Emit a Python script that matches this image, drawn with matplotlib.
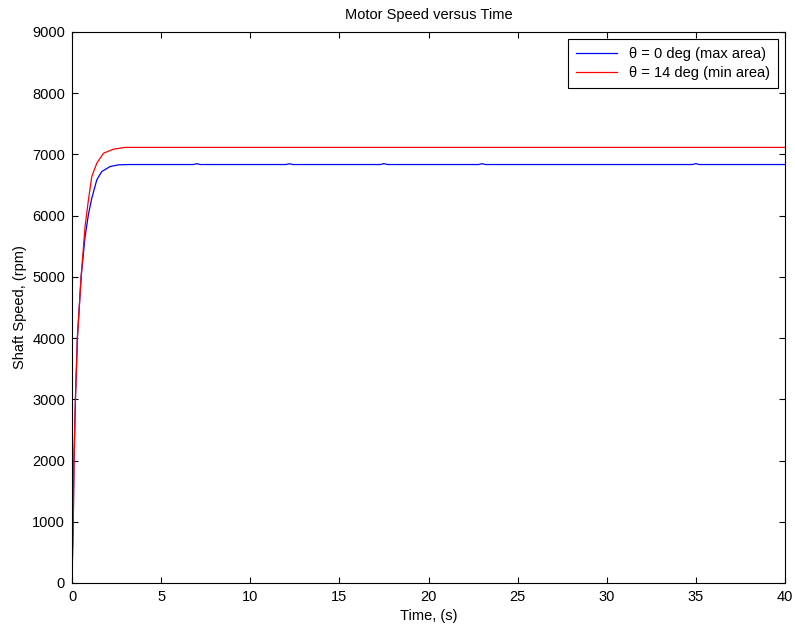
import matplotlib
matplotlib.use("Agg")
import matplotlib.pyplot as plt

plt.rcParams['font.family'] = ['Liberation Sans', 'DejaVu Sans']

# Data
t_max_area = [0, 0.03, 0.07, 0.11, 0.19, 0.30, 0.51, 0.73, 0.92, 1.11, 1.39, 1.67, 2.14, 2.61, 3.2,
              6.8, 7.0, 7.2, 12.0, 12.2, 12.4, 17.3, 17.5, 17.7, 22.8, 23.0, 23.2,
              34.8, 35.0, 35.2, 40]
speed_max_area = [0, 500, 1000, 2000, 3000, 4000, 5000, 5650, 6020, 6286, 6585, 6721, 6803, 6830, 6835,
                  6835, 6848, 6835, 6835, 6848, 6835, 6835, 6850, 6835, 6835, 6848, 6835,
                  6835, 6850, 6835, 6835]

t_min_area = [0, 0.03, 0.07, 0.11, 0.19, 0.30, 0.51, 0.73, 0.92, 1.11, 1.39, 1.77, 2.33, 2.99, 40]
speed_min_area = [0, 500, 1000, 2000, 3000, 4000, 5000, 5820, 6258, 6640, 6858, 7021, 7086, 7115, 7115]

x_ticks = [0, 5, 10, 15, 20, 25, 30, 35, 40]
y_ticks = [0, 1000, 2000, 3000, 4000, 5000, 6000, 7000, 8000, 9000]

fig = plt.figure(figsize=(7.95, 6.26), dpi=100)
ax = fig.add_axes([0.0906, 0.0687, 0.8968, 0.8802])

ax.plot(t_max_area, speed_max_area, color='#0000ff', lw=0.9, label='θ = 0 deg (max area)')
ax.plot(t_min_area, speed_min_area, color='#ff0000', lw=0.9, label='θ = 14 deg (min area)')

ax.set_xlim(0, 40)
ax.set_ylim(0, 9000)
ax.set_xticks(x_ticks)
ax.set_yticks(y_ticks)
ax.tick_params(direction='in', top=True, right=True, length=4, width=0.8,
               labelsize=10.5, pad=5)
for s in ax.spines.values():
    s.set_linewidth(0.8)

ax.set_title('Motor Speed versus Time', fontsize=10.5, pad=9)
ax.set_xlabel('Time, (s)', fontsize=10.5, labelpad=4)
ax.set_ylabel('Shaft Speed, (rpm)', fontsize=10.5, labelpad=4)

leg = ax.legend(loc='upper right', fontsize=10.5, fancybox=False, framealpha=1,
                edgecolor='black', handlelength=2.8, borderpad=0.55,
                labelspacing=0.3, borderaxespad=0.5)
leg.get_frame().set_linewidth(0.8)

fig.savefig('out.png', dpi=100)
